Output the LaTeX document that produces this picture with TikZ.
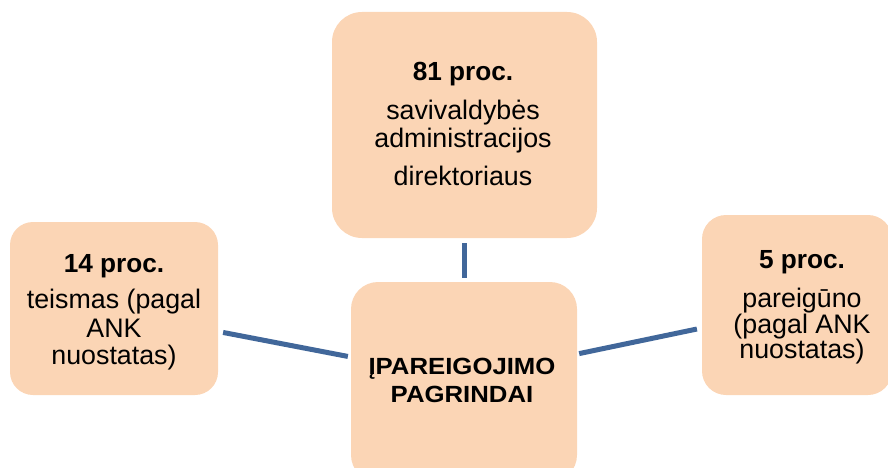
\documentclass[tikz,border=0pt]{standalone}
\usepackage{fontspec}
\setmainfont{Liberation Sans}
\newfontfamily\centerfont{Liberation Sans}[FakeStretch=1.1]
\definecolor{boxfill}{HTML}{FBD5B5}
\definecolor{linkblue}{HTML}{41679A}
\begin{document}
\begin{tikzpicture}[x=1pt,y=-1pt,
  box/.style={fill=boxfill, draw=none, inner sep=0pt, rounded corners=#1},
  txt/.style={anchor=base, inner sep=0pt, font=\fontsize{26.8}{27}\selectfont},
  hdr/.style={anchor=base, inner sep=0pt, font=\fontsize{26.2}{27}\selectfont\bfseries},
  ctxt/.style={anchor=base, inner sep=0pt, font=\centerfont\fontsize{23.4}{24}\selectfont\bfseries},
  conn/.style={draw=linkblue, line width=5pt}]
\useasboundingbox (0,0) rectangle (888,468);
\clip (0,0) rectangle (888,468);
% boxes
\node[box=30pt, minimum width=265pt, minimum height=226pt] (topbox) at (464.5,125) {};
\node[box=23pt, minimum width=208pt, minimum height=173pt] (leftbox) at (114,308.5) {};
\node[box=24pt, minimum width=190pt, minimum height=180pt] (rightbox) at (797,305) {};
\node[box=27pt, minimum width=226pt, minimum height=200pt] (centerbox) at (464,382) {};
% connectors
\draw[conn, shorten <=5pt, shorten >=4pt] (topbox.south) -- (topbox.south |- centerbox.north);
\draw[conn, shorten <=5pt, shorten >=3pt] ([yshift=-23pt]leftbox.east) -- ([yshift=25pt]centerbox.west);
\draw[conn, shorten <=2pt, shorten >=5pt] ([yshift=28pt]centerbox.east) -- ([yshift=-23pt]rightbox.west);
% top texts
\node[hdr] (t1) at (463,81) {81 proc.};
\node[txt] (t2) at (463,120) {savivaldybės};
\node[txt] (t3) at (463,147) {administracijos};
\node[txt] (t4) at (463,185) {direktoriaus};
% left texts
\node[hdr] (l1) at (114,272) {14 proc.};
\node[txt] (l2) at (114,308) {teismas (pagal};
\node[txt] (l3) at (114,337) {ANK};
\node[txt] (l4) at (114,364) {nuostatas)};
% right texts
\node[hdr] (r1) at (802,268) {5 proc.};
\node[txt] (r2) at (802,307) {pareigūno};
\node[txt] (r3) at (802,333) {(pagal ANK};
\node[txt] (r4) at (802,358) {nuostatas)};
% center texts
\node[ctxt] (c1) at (462,374) {ĮPAREIGOJIMO};
\node[ctxt] (c2) at (462,402) {PAGRINDAI};
\end{tikzpicture}
\end{document}
